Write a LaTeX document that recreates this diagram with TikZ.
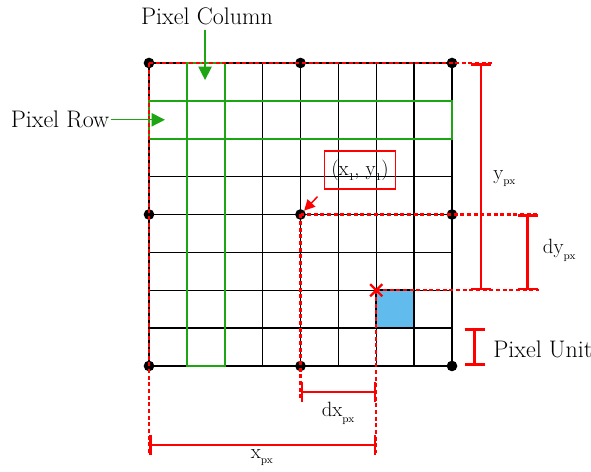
\documentclass[tikz,border=0pt]{standalone}
\usetikzlibrary{arrows.meta,calc}
\definecolor{gridgreen}{RGB}{30,165,20}
\definecolor{cellblue}{RGB}{98,187,237}
\newcommand{\mysub}[1]{\raisebox{-4pt}{\fontsize{8}{8}\selectfont #1}}
\tikzset{
  gridline/.style={black, line width=1pt},
  greenbox/.style={draw=gridgreen, line width=1.8pt},
  greenarrow/.style={gridgreen, line width=0.9pt, -{Triangle[length=10pt,width=10pt]}},
  reddash/.style={red, line width=1.8pt, dash pattern=on 3pt off 2pt},
  dimbar/.style={red, line width=2pt, {Bar[width=15pt]}-{Bar[width=15pt]}},
  dotpt/.style={circle, fill=black, inner sep=0pt, minimum size=8pt},
  lbl/.style={font=\fontsize{15.5}{18}\selectfont, inner sep=1pt},
  biglbl/.style={font=\fontsize{18}{21}\selectfont, inner sep=1pt},
  markx/.style={red, line width=1.8pt}
}
\begin{document}
\begin{tikzpicture}
\useasboundingbox (-3.934,-2.799) rectangle (11.67,9.663);
% grid
\draw[gridline] (0,0) grid (8,8);
% green row / column
\draw[greenbox] (1,0) rectangle (2,8);
\draw[greenbox] (0,6) rectangle (8,7);
% dots
\foreach \i in {0,4,8}{
  \foreach \j in {0,4,8}{
    \node[dotpt] (d\i\j) at (\i,\j) {};
  }
}
% blue cell
\draw[fill=cellblue, draw=black, line width=1.6pt] (6,1) rectangle (7,2);
% coordinates
\coordinate (p08) at (0,8);
\coordinate (p44) at (4,4);
\coordinate (p62) at (6,2);
\coordinate (topend) at (9.07,8);
\coordinate (midend) at (10.3,4);
\coordinate (lowend) at (10.3,2);
\coordinate (leftend) at (0,-2.3);
\coordinate (dxend) at (4,-0.9);
\coordinate (xend) at (6,-2.3);
% red dashed lines
\draw[reddash] (p08) -- (topend);
\draw[reddash] (p08) -- (leftend);
\draw[reddash] (p44) -- (midend);
\draw[reddash] (p44) -- (dxend);
\draw[reddash] (p62) -- (lowend);
\draw[reddash] (p62) -- (xend);
% red X
\draw[markx] ($(p62)+(-0.16,-0.16)$) -- ($(p62)+(0.16,0.16)$);
\draw[markx] ($(p62)+(-0.16,0.16)$) -- ($(p62)+(0.16,-0.16)$);
% dimension bars
\coordinate (ya) at (8.77,8);
\coordinate (yb) at (8.77,2);
\coordinate (dya) at (10.0,4);
\coordinate (dyb) at (10.0,2);
\coordinate (pua) at (8.6,1);
\coordinate (pub) at (8.6,0);
\coordinate (dxa) at (4,-0.69);
\coordinate (dxb) at (6,-0.69);
\coordinate (xa) at (0,-2.09);
\coordinate (xb) at (6,-2.09);
\draw[dimbar] (ya) -- (yb);
\draw[dimbar] (dya) -- (dyb);
\draw[dimbar] (pua) -- (pub);
\draw[dimbar] (dxa) -- (dxb);
\draw[dimbar] (xa) -- (xb);
% labels
\node[lbl, anchor=west] (ylbl) at (9.05,4.95) {y\mysub{px}};
\node[lbl, anchor=west] (dylbl) at (10.36,3.05) {dy\mysub{px}};
\node[biglbl, anchor=west] (pulbl) at (9.05,0.45) {Pixel Unit};
\node[lbl] (dxlbl) at (4.99,-1.25) {dx\mysub{px}};
\node[lbl] (xlbl) at (2.98,-2.42) {x\mysub{px}};
\node[biglbl] (collbl) at (1.53,9.24) {Pixel Column};
\node[biglbl] (rowlbl) at (-2.35,6.5) {Pixel Row};
\node[lbl, draw=red, line width=1.1pt, minimum width=53pt, minimum height=28.5pt] (ptlbl) at (5.57,5.17) {(x\mysub{1}, y\mysub{1})};
% arrows
\coordinate (coltip) at (1.48,7.55);
\coordinate (rowtip) at (0.42,6.5);
\draw[greenarrow] (collbl.south -| coltip) ++(0,-0.1) -- (coltip);
\draw[greenarrow] (rowlbl.east) -- (rowtip);
\draw[red, line width=1.1pt, -{Triangle[length=8pt,width=8pt]}, shorten <=7pt, shorten >=4pt] (ptlbl.south west) -- (p44);
\end{tikzpicture}
\end{document}
